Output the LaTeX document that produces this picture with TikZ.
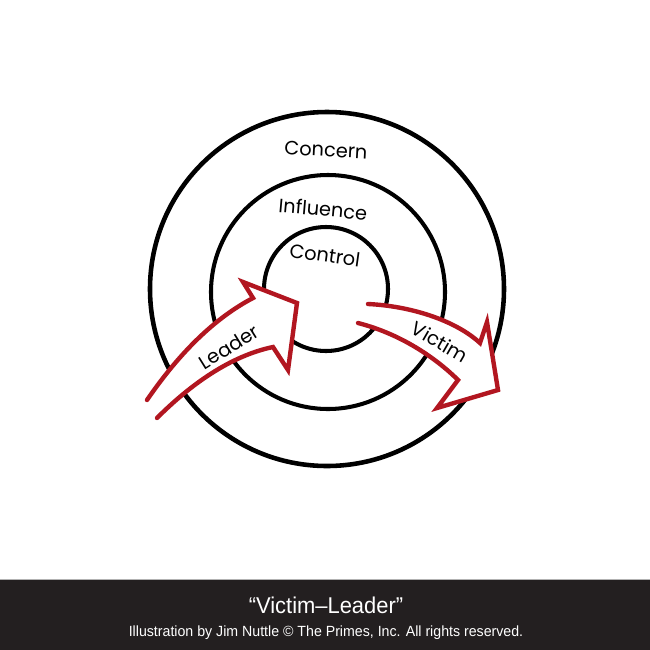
\documentclass[tikz,border=0pt]{standalone}
\usepackage{fontspec}
\newfontfamily\handfont{Poppins}
\newfontfamily\capfont[FakeStretch=0.96]{Liberation Sans}
\definecolor{arrowred}{RGB}{178,22,32}
\definecolor{bardark}{RGB}{35,31,32}
\tikzset{
  ring/.style={line width=2.3pt, black},
  bigarrow/.style={arrowred, line width=2.5pt, line join=miter, line cap=round},
  circlelabel/.style={font=\handfont\fontsize{11}{13}\selectfont, inner sep=1pt},
  arrowlabel/.style={font=\handfont\fontsize{11}{13}\selectfont, inner sep=0pt}
}
\begin{document}
\begin{tikzpicture}[x=0.02cm, y=-0.02cm]
    \useasboundingbox (0,0) rectangle (650,650);
    \fill[white] (0,0) rectangle (650,650);

    % Kreise
    \draw[ring, line width=2.6pt] (327,289) circle [radius=177];
    \draw[ring] (328,292) circle [radius=117];
    \draw[ring] (326,289) circle [radius=62];

    % Pfeil Leader
    \fill[white] (147,400) .. controls (180,352) and (215,318) .. (253,298) -- (243,282) -- (297,303) -- (288,370) -- (273,347) .. controls (230,356) and (190,385) .. (157,418) -- cycle;
    \draw[bigarrow] (147,400) .. controls (180,352) and (215,318) .. (253,298) -- (243,282) -- (297,303) -- (288,370) -- (273,347) .. controls (230,356) and (190,385) .. (157,418);

    % Pfeil Victim
    \fill[white] (368,304) .. controls (410,306) and (455,320) .. (480,343) -- (487,322) -- (498,390) -- (437,408) -- (458,380) .. controls (440,362) and (405,335) .. (358,323) -- cycle;
    \draw[bigarrow] (368,304) .. controls (410,306) and (455,320) .. (480,343) -- (487,322) -- (498,390) -- (437,408) -- (458,380) .. controls (440,362) and (405,335) .. (358,323);

    % Beschriftung
    \node[circlelabel, rotate=-3] (concern) at (326,150) {Concern};
    \node[circlelabel, rotate=-5] (influence) at (323,209) {Influence};
    \node[circlelabel, rotate=-8] (control) at (325,255) {Control};
    \node[arrowlabel, rotate=32] (leader) at (229,347) {Leader};
    \node[arrowlabel, rotate=-30] (victim) at (440,342) {Victim};

    % Fusszeile
    \fill[bardark] (0,580) rectangle (650,650);
    \draw[gray!60, line width=0.4pt] (0,579.5) -- (650,579.5);
    \node[white, font=\capfont\fontsize{13}{15}\selectfont] (title) at (326,605) {“Victim–Leader”};
    \node[white, font=\capfont\fontsize{8.4}{10}\selectfont] (credit) at (326,633) {Illustration by Jim Nuttle © The Primes, Inc. All rights reserved.};
\end{tikzpicture}
\end{document}
